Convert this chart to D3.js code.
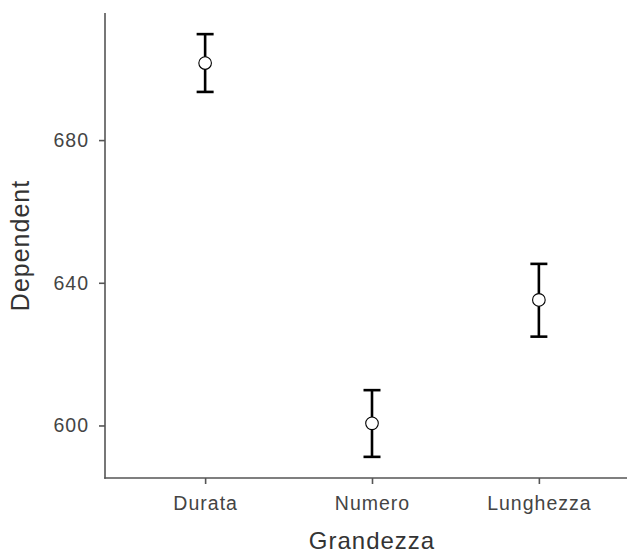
<!DOCTYPE html>
<html>
<head>
<meta charset="utf-8">
<script src="https://cdn.jsdelivr.net/npm/d3@7"></script>
<style>
  body { margin: 0; background: #fff; }
  svg text { font-family: "Liberation Sans", Arial, sans-serif; }
</style>
</head>
<body>
<div class="canva"></div>
<script>
const categories = ["Durata", "Numero", "Lunghezza"];
const means = [701.6, 600.6, 635.2];
const lower = [693.5, 591.2, 624.9];
const upper = [709.7, 609.9, 645.3];
const yTicks = [600, 640, 680];

const data = categories.map((c, i) => ({cat: c, mean: means[i], lo: lower[i], hi: upper[i]}));

const width = 627, height = 555;
const margin = {top: 13, right: -12, bottom: 77, left: 105};
const graphWidth = width - margin.left - margin.right;
const graphHeight = height - margin.top - margin.bottom;

const svg = d3.select(".canva").append("svg")
    .attr("width", width)
    .attr("height", height);

const graph = svg.append("g")
    .attr("transform", `translate(${margin.left}, ${margin.top})`);

// ggplot-like 5% expansion of data range
const ymin = d3.min(lower), ymax = d3.max(upper);
const pad = (ymax - ymin) * 0.05;
const y = d3.scaleLinear()
    .domain([ymin - pad, ymax + pad])
    .range([graphHeight, 0]);

const x = d3.scalePoint()
    .domain(categories)
    .range([0, graphWidth])
    .padding(0.6);

const axisColor = "#555";
const labelColor = "#444";

const xAxisGroup = graph.append("g")
    .attr("transform", `translate(0, ${graphHeight})`)
    .call(d3.axisBottom(x).tickSize(6).tickPadding(12).tickSizeOuter(0));

const yAxisGroup = graph.append("g")
    .call(d3.axisLeft(y).tickValues(yTicks).tickSize(6).tickPadding(10).tickSizeOuter(0));

[xAxisGroup, yAxisGroup].forEach(g => {
  g.select(".domain").attr("stroke", axisColor).attr("stroke-width", 1.6);
  g.selectAll(".tick line").attr("stroke", axisColor).attr("stroke-width", 1.6);
  g.selectAll(".tick text")
      .attr("fill", labelColor)
      .style("font-size", "19.5px")
      .style("letter-spacing", "1px");
});
// extend y axis line to meet x axis cleanly
yAxisGroup.select(".domain").attr("d", `M0,${graphHeight + 0.8}V0`);
xAxisGroup.select(".domain").attr("d", `M-0.8,0H${graphWidth}`);

const capW = 8.5;
const bars = graph.selectAll(".err")
    .data(data)
    .enter().append("g")
    .attr("class", "err")
    .attr("stroke", "#000")
    .attr("stroke-width", 2.6);

bars.append("line")
    .attr("x1", d => x(d.cat)).attr("x2", d => x(d.cat))
    .attr("y1", d => y(d.lo)).attr("y2", d => y(d.hi));
bars.append("line")
    .attr("x1", d => x(d.cat) - capW).attr("x2", d => x(d.cat) + capW)
    .attr("y1", d => y(d.hi)).attr("y2", d => y(d.hi));
bars.append("line")
    .attr("x1", d => x(d.cat) - capW).attr("x2", d => x(d.cat) + capW)
    .attr("y1", d => y(d.lo)).attr("y2", d => y(d.lo));

graph.selectAll("circle")
    .data(data)
    .enter().append("circle")
    .attr("cx", d => x(d.cat))
    .attr("cy", d => y(d.mean))
    .attr("r", 6.3)
    .attr("fill", "#fff")
    .attr("stroke", "#000")
    .attr("stroke-width", 1.1);

svg.append("text")
    .attr("x", margin.left + graphWidth / 2)
    .attr("y", 549)
    .attr("text-anchor", "middle")
    .attr("fill", "#333")
    .style("font-size", "24px")
    .style("letter-spacing", "1px")
    .text("Grandezza");

svg.append("text")
    .attr("transform", `translate(29, ${margin.top + graphHeight / 2}) rotate(-90)`)
    .attr("text-anchor", "middle")
    .attr("fill", "#333")
    .style("font-size", "25px")
    .style("letter-spacing", "1px")
    .text("Dependent");
</script>
</body>
</html>
